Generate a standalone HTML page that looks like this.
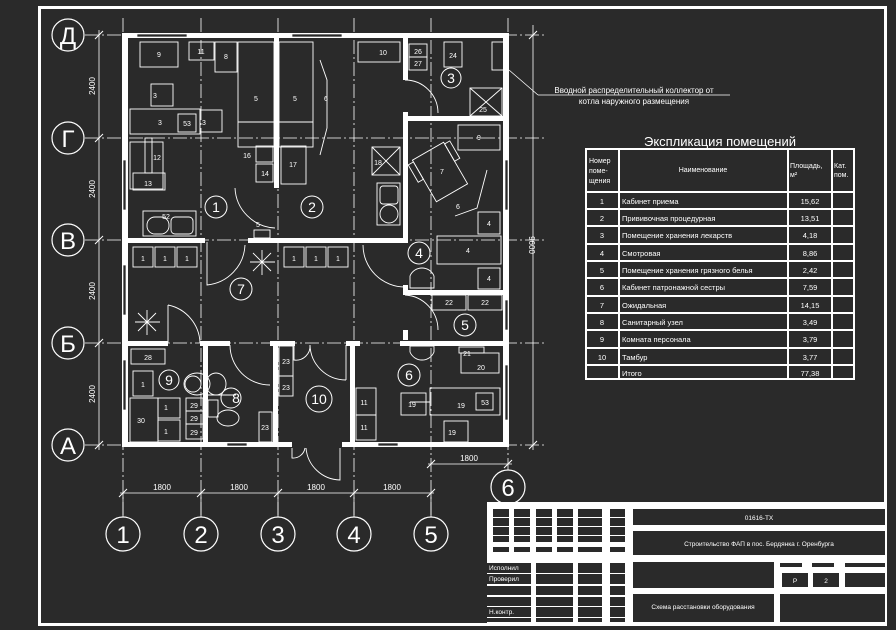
<!DOCTYPE html>
<html><head><meta charset="utf-8"><style>
html,body{margin:0;padding:0;background:#2a2a2a;}
svg{display:block;}
text{font-family:"Liberation Sans","DejaVu Sans",sans-serif;fill:#fff;}
</style></head><body>
<svg width="896" height="630" viewBox="0 0 896 630" xmlns="http://www.w3.org/2000/svg">
<rect width="896" height="630" fill="#2a2a2a"/>
<rect x="39.5" y="7.5" width="846" height="617" fill="none" stroke="#fff" stroke-width="3"/>

<!-- grid lines -->
<g stroke="#fff" stroke-width="0.8" stroke-dasharray="14,3,2,3">
<line x1="123" y1="18" x2="123" y2="515"/>
<line x1="201" y1="18" x2="201" y2="515"/>
<line x1="278" y1="18" x2="278" y2="515"/>
<line x1="354" y1="18" x2="354" y2="515"/>
<line x1="431" y1="18" x2="431" y2="515"/>
<line x1="508" y1="18" x2="508" y2="470"/>
<line x1="85" y1="35" x2="545" y2="35"/>
<line x1="85" y1="138" x2="545" y2="138"/>
<line x1="85" y1="240" x2="545" y2="240"/>
<line x1="85" y1="343" x2="545" y2="343"/>
<line x1="85" y1="445" x2="545" y2="445"/>
</g>
<!-- dimension lines -->
<g stroke="#fff" stroke-width="0.8">
<line x1="99" y1="30" x2="99" y2="450"/>
<line x1="533" y1="25" x2="533" y2="450"/>
<line x1="120" y1="493" x2="434" y2="493"/>
<line x1="428" y1="464" x2="512" y2="464"/>
<line x1="509" y1="70" x2="538" y2="95"/>
<line x1="538" y1="95" x2="730" y2="95"/>
<line x1="123" y1="493" x2="123" y2="517"/><line x1="201" y1="493" x2="201" y2="517"/><line x1="278" y1="493" x2="278" y2="517"/><line x1="354" y1="493" x2="354" y2="517"/><line x1="431" y1="493" x2="431" y2="517"/>
<g stroke-width="1">
<line x1="95" y1="39" x2="103" y2="31"/><line x1="95" y1="142" x2="103" y2="134"/><line x1="95" y1="244" x2="103" y2="236"/><line x1="95" y1="347" x2="103" y2="339"/><line x1="95" y1="449" x2="103" y2="441"/>
<line x1="529" y1="39" x2="537" y2="31"/><line x1="529" y1="449" x2="537" y2="441"/>
<line x1="119" y1="497" x2="127" y2="489"/><line x1="197" y1="497" x2="205" y2="489"/><line x1="274" y1="497" x2="282" y2="489"/><line x1="350" y1="497" x2="358" y2="489"/><line x1="427" y1="497" x2="435" y2="489"/>
<line x1="427" y1="468" x2="435" y2="460"/><line x1="504" y1="468" x2="512" y2="460"/>
</g>
</g>
<g font-size="8">
<text x="95" y="86" transform="rotate(-90 95 86)" text-anchor="middle">2400</text>
<text x="95" y="189" transform="rotate(-90 95 189)" text-anchor="middle">2400</text>
<text x="95" y="291" transform="rotate(-90 95 291)" text-anchor="middle">2400</text>
<text x="95" y="394" transform="rotate(-90 95 394)" text-anchor="middle">2400</text>
<text x="529" y="245" transform="rotate(90 529 245)" text-anchor="middle">9600</text>
<text x="162" y="490" text-anchor="middle">1800</text>
<text x="239" y="490" text-anchor="middle">1800</text>
<text x="316" y="490" text-anchor="middle">1800</text>
<text x="392" y="490" text-anchor="middle">1800</text>
<text x="469" y="461" text-anchor="middle">1800</text>
<text x="634" y="93" text-anchor="middle">Вводной распределительный коллектор от</text>
<text x="634" y="104" text-anchor="middle">котла наружного размещения</text>
</g>

<!-- axis circles -->
<g fill="none" stroke="#fff" stroke-width="1.2">
<circle cx="68" cy="35" r="16"/><circle cx="68" cy="138" r="16"/><circle cx="68" cy="240" r="16"/><circle cx="68" cy="343" r="16"/><circle cx="68" cy="445" r="16"/>
<circle cx="123" cy="534" r="17"/><circle cx="201" cy="534" r="17"/><circle cx="278" cy="534" r="17"/><circle cx="354" cy="534" r="17"/><circle cx="431" cy="534" r="17"/><circle cx="508" cy="487" r="17"/>
</g>
<g font-size="24" text-anchor="middle">
<text x="68" y="44">Д</text><text x="68" y="147">Г</text><text x="68" y="249">В</text><text x="68" y="352">Б</text><text x="68" y="454">А</text>
<text x="123" y="543">1</text><text x="201" y="543">2</text><text x="278" y="543">3</text><text x="354" y="543">4</text><text x="431" y="543">5</text><text x="508" y="496">6</text>
</g>

<!-- walls -->
<g fill="#fff">
<rect x="122" y="33" width="6" height="414"/>
<rect x="503" y="33" width="6" height="414"/>
<rect x="122" y="33" width="387" height="5"/>
<rect x="122" y="442" width="387" height="5"/>
<rect x="274" y="38" width="5" height="150"/>
<rect x="403" y="38" width="5" height="42"/>
<rect x="403" y="112" width="5" height="130"/>
<rect x="403" y="116" width="105" height="5"/>
<rect x="125" y="238" width="80" height="5"/>
<rect x="248" y="238" width="160" height="5"/>
<rect x="403" y="290" width="105" height="5"/>
<rect x="403" y="285" width="5" height="10"/>
<rect x="403" y="330" width="5" height="10"/>
<rect x="125" y="341" width="43" height="5"/>
<rect x="200" y="341" width="30" height="5"/>
<rect x="270" y="341" width="25" height="5"/>
<rect x="346" y="341" width="14" height="5"/>
<rect x="400" y="341" width="108" height="5"/>
<rect x="203" y="343" width="5" height="102"/>
<rect x="273" y="343" width="5" height="102"/>
<rect x="350" y="343" width="5" height="102"/>
</g>
<!-- window gaps on outer wall -->
<g fill="#2a2a2a" stroke="#fff" stroke-width="0.7">
<rect x="137" y="34" width="50" height="3"/><rect x="292" y="34" width="50" height="3"/>
<rect x="227" y="443" width="20" height="3"/><rect x="378" y="443" width="20" height="3"/>
<rect x="123" y="160" width="3" height="50"/><rect x="123" y="265" width="3" height="50"/><rect x="123" y="360" width="3" height="50"/>
<rect x="505" y="160" width="3" height="50"/><rect x="505" y="300" width="3" height="30"/><rect x="505" y="365" width="3" height="55"/>
</g>
<rect x="292" y="441" width="50" height="7" fill="#2a2a2a"/>

<!-- doors -->
<g fill="none" stroke="#fff" stroke-width="0.9">
<path d="M405 80 A33 33 0 0 1 438 113"/>
<path d="M235 188 A42 42 0 0 0 275 228"/>
<path d="M207 242 L207 285 A42 42 0 0 0 245 245"/>
<path d="M168 305 L168 343 M168 305 A40 40 0 0 1 200 343"/>
<path d="M363 245 A42 42 0 0 0 405 287"/>
<path d="M405 295 A35 35 0 0 1 438 330"/>
<path d="M230 345 A40 40 0 0 0 270 385"/>
<path d="M310 345 A36 36 0 0 0 346 380 M346 345 L346 380"/>
<path d="M294 345 L294 360 A14 14 0 0 0 310 345"/>
<path d="M340 448 L340 480 A35 35 0 0 1 306 448"/>
<path d="M292 448 L292 458 A12 12 0 0 0 305 448"/>
<path d="M320 60 L327 80 L327 128 L320 155"/>
<path d="M455 216 L477 208 L487 170"/>
</g>

<!-- furniture -->
<g fill="none" stroke="#fff" stroke-width="0.9">
<rect x="140" y="42" width="38" height="25"/>
<rect x="189" y="42" width="25" height="18"/>
<rect x="215" y="42" width="22" height="30"/>
<rect x="238" y="42" width="36" height="105"/><line x1="238" y1="122" x2="274" y2="122"/>
<rect x="279" y="42" width="34" height="105"/><line x1="279" y1="122" x2="313" y2="122"/>
<rect x="151" y="84" width="22" height="22"/>
<rect x="130" y="109" width="70" height="25"/>
<rect x="178" y="114" width="18" height="18"/>
<rect x="200" y="110" width="22" height="22"/>
<rect x="130" y="142" width="33" height="47"/>
<rect x="145" y="138" width="7" height="35"/>
<rect x="133" y="173" width="32" height="17"/>
<rect x="256" y="146" width="17" height="16"/>
<rect x="256" y="164" width="17" height="18"/>
<rect x="281" y="146" width="25" height="38"/>
<rect x="143" y="211" width="53" height="25"/>
<rect x="147" y="217" width="22" height="17" rx="8"/><rect x="171" y="217" width="22" height="17" rx="4"/>
<rect x="254" y="230" width="16" height="8"/>
<rect x="133" y="247" width="20" height="20"/><rect x="155" y="247" width="20" height="20"/><rect x="177" y="247" width="20" height="20"/>
<rect x="284" y="247" width="20" height="20"/><rect x="306" y="247" width="20" height="20"/><rect x="328" y="247" width="20" height="20"/>
<rect x="358" y="42" width="42" height="20"/>
<rect x="409" y="44" width="18" height="13"/><rect x="409" y="57" width="18" height="13"/>
<rect x="444" y="42" width="18" height="25"/>
<rect x="492" y="42" width="12" height="28"/>
<rect x="470" y="88" width="32" height="28"/><line x1="470" y1="88" x2="502" y2="116"/><line x1="502" y1="88" x2="470" y2="116"/>
<rect x="372" y="147" width="28" height="28"/><line x1="372" y1="147" x2="400" y2="175"/><line x1="400" y1="147" x2="372" y2="175"/>
<rect x="458" y="125" width="42" height="25"/>
<g transform="rotate(-30 440 172)"><rect x="422" y="148" width="36" height="48"/><rect x="416" y="150" width="6" height="20"/><rect x="458" y="150" width="6" height="20"/></g>
<rect x="377" y="183" width="23" height="42"/>
<rect x="380" y="186" width="18" height="18" rx="3"/><rect x="380" y="205" width="18" height="18" rx="9"/>
<rect x="478" y="212" width="22" height="22"/>
<rect x="437" y="236" width="64" height="28"/>
<rect x="478" y="268" width="22" height="21"/>
<path d="M410 288 L410 276 A13 13 0 0 1 434 276 L434 288 Z"/>
<rect x="432" y="295" width="34" height="15"/><rect x="468" y="295" width="34" height="15"/>
<path d="M410 346 L410 352 A13 13 0 0 0 434 352 L434 346 Z"/>
<rect x="459" y="347" width="25" height="6"/>
<rect x="461" y="353" width="38" height="20"/>
<rect x="401" y="393" width="25" height="22"/>
<rect x="430" y="388" width="70" height="27"/><rect x="476" y="393" width="17" height="17"/>
<rect x="444" y="421" width="24" height="21"/>
<rect x="131" y="349" width="34" height="15"/>
<rect x="133" y="371" width="20" height="25"/>
<rect x="130" y="398" width="28" height="44"/>
<rect x="158" y="398" width="22" height="20"/><rect x="158" y="420" width="22" height="21"/>
<rect x="186" y="398" width="17" height="13"/><rect x="186" y="411" width="17" height="13"/><rect x="186" y="424" width="17" height="15"/>
<ellipse cx="197" cy="384" rx="13" ry="11"/><circle cx="193" cy="384" r="8"/>
<ellipse cx="216" cy="384" rx="10" ry="11"/>
<rect x="208" y="400" width="10" height="17"/><ellipse cx="228" cy="418" rx="11" ry="8"/>
<rect x="236" y="238" width="0" height="0"/>
<rect x="279" y="346" width="14" height="30"/><rect x="279" y="376" width="14" height="20"/>
<rect x="259" y="412" width="13" height="30"/>
<rect x="356" y="388" width="20" height="27"/><rect x="356" y="415" width="20" height="25"/>
<path d="M410 402 L430 402 M208 395 L236 395"/>
</g>
<!-- lamps -->
<g stroke="#fff" stroke-width="0.9">
<path d="M250 262 L275 262 M262 250 L262 275 M253 253 L271 271 M271 253 L253 271"/>
<path d="M135 322 L160 322 M147 310 L147 335 M138 313 L156 331 M156 313 L138 331"/>
</g>
<!-- room circles -->
<g fill="none" stroke="#fff" stroke-width="1">
<circle cx="216" cy="207" r="11"/><circle cx="312" cy="207" r="11"/><circle cx="451" cy="78" r="10"/>
<circle cx="419" cy="253" r="11"/><circle cx="465" cy="325" r="11"/><circle cx="409" cy="375" r="11"/>
<circle cx="241" cy="289" r="11"/><circle cx="231" cy="398" r="10"/><circle cx="169" cy="380" r="10"/>
<circle cx="319" cy="399" r="13"/>
</g>
<g font-size="14" text-anchor="middle">
<text x="216" y="212">1</text><text x="312" y="212">2</text><text x="451" y="83">3</text>
<text x="419" y="258">4</text><text x="465" y="330">5</text><text x="409" y="380">6</text>
<text x="241" y="294">7</text><text x="236" y="403">8</text><text x="169" y="385">9</text><text x="319" y="404">10</text>
</g>
<g font-size="7" text-anchor="middle">
<text x="159" y="57">9</text><text x="201" y="54">11</text><text x="226" y="59">8</text>
<text x="256" y="101">5</text><text x="295" y="101">5</text><text x="326" y="101">6</text>
<text x="155" y="98">3</text><text x="160" y="125">3</text><text x="187" y="126">53</text><text x="204" y="125">3</text>
<text x="157" y="160">12</text><text x="148" y="186">13</text><text x="247" y="158">16</text><text x="265" y="176">14</text><text x="293" y="167">17</text>
<text x="166" y="219">52</text><text x="258" y="227">5</text>
<text x="143" y="261">1</text><text x="165" y="261">1</text><text x="187" y="261">1</text>
<text x="294" y="261">1</text><text x="316" y="261">1</text><text x="338" y="261">1</text>
<text x="383" y="55">10</text><text x="418" y="54">26</text><text x="418" y="66">27</text><text x="453" y="58">24</text><text x="483" y="112">25</text>
<text x="479" y="140">9</text><text x="442" y="174">7</text><text x="458" y="209">6</text><text x="378" y="165">18</text>
<text x="489" y="226">4</text><text x="468" y="253">4</text><text x="489" y="281">4</text>
<text x="449" y="305">22</text><text x="485" y="305">22</text>
<text x="467" y="356">21</text><text x="481" y="370">20</text>
<text x="412" y="407">19</text><text x="461" y="408">19</text><text x="485" y="405">53</text><text x="452" y="435">19</text>
<text x="148" y="360">28</text><text x="143" y="387">1</text><text x="141" y="423">30</text>
<text x="166" y="410">1</text><text x="166" y="434">1</text>
<text x="194" y="408">29</text><text x="194" y="421">29</text><text x="194" y="435">29</text>
<text x="286" y="364">23</text><text x="286" y="390">23</text><text x="265" y="430">23</text>
<text x="364" y="405">11</text><text x="364" y="430">11</text>
</g>

<!-- explication table -->
<text x="720" y="146" font-size="13" text-anchor="middle">Экспликация помещений</text>
<g stroke="#fff" stroke-width="2" fill="none">
<rect x="586" y="149" width="268" height="230"/>
<line x1="619" y1="149" x2="619" y2="379"/><line x1="788" y1="149" x2="788" y2="379"/><line x1="832" y1="149" x2="832" y2="379"/>
<line x1="586" y1="192" x2="854" y2="192"/>
<line x1="586" y1="209" x2="854" y2="209"/><line x1="586" y1="226" x2="854" y2="226"/><line x1="586" y1="244" x2="854" y2="244"/>
<line x1="586" y1="261" x2="854" y2="261"/><line x1="586" y1="278" x2="854" y2="278"/><line x1="586" y1="296" x2="854" y2="296"/>
<line x1="586" y1="313" x2="854" y2="313"/><line x1="586" y1="330" x2="854" y2="330"/><line x1="586" y1="348" x2="854" y2="348"/>
<line x1="586" y1="365" x2="854" y2="365"/>
</g>
<g font-size="7">
<text x="589" y="163">Номер</text><text x="589" y="173">поме-</text><text x="589" y="183">щения</text>
<text x="703" y="172" text-anchor="middle">Наименование</text>
<text x="790" y="168">Площадь,</text><text x="790" y="177">м²</text>
<text x="834" y="168">Кат.</text><text x="834" y="177">пом.</text>
</g>
<g font-size="7.5">
<g text-anchor="middle">
<text x="602" y="204">1</text><text x="602" y="221">2</text><text x="602" y="238">3</text><text x="602" y="256">4</text><text x="602" y="273">5</text><text x="602" y="290">6</text><text x="602" y="308">7</text><text x="602" y="325">8</text><text x="602" y="342">9</text><text x="602" y="360">10</text>
<text x="810" y="204">15,62</text><text x="810" y="221">13,51</text><text x="810" y="238">4,18</text><text x="810" y="256">8,86</text><text x="810" y="273">2,42</text><text x="810" y="290">7,59</text><text x="810" y="308">14,15</text><text x="810" y="325">3,49</text><text x="810" y="342">3,79</text><text x="810" y="360">3,77</text><text x="810" y="376">77,38</text>
</g>
<text x="622" y="204">Кабинет приема</text><text x="622" y="221">Прививочная процедурная</text><text x="622" y="238">Помещение хранения лекарств</text><text x="622" y="256">Смотровая</text><text x="622" y="273">Помещение хранения грязного белья</text><text x="622" y="290">Кабинет патронажной сестры</text><text x="622" y="308">Ожидальная</text><text x="622" y="325">Санитарный узел</text><text x="622" y="342">Комната персонала</text><text x="622" y="360">Тамбур</text><text x="622" y="376">Итого</text>
</g>

<!-- title block -->
<rect x="487" y="502" width="398" height="123" fill="#fff"/>
<g fill="#2a2a2a">
<rect x="493" y="509" width="16" height="8"/><rect x="493" y="518" width="16" height="8"/><rect x="493" y="527" width="16" height="8"/><rect x="493" y="536" width="16" height="6"/>
<rect x="514" y="509" width="16" height="8"/><rect x="514" y="518" width="16" height="8"/><rect x="514" y="527" width="16" height="8"/><rect x="514" y="536" width="16" height="6"/>
<rect x="536" y="509" width="16" height="8"/><rect x="536" y="518" width="16" height="8"/><rect x="536" y="527" width="16" height="8"/><rect x="536" y="536" width="16" height="6"/>
<rect x="557" y="509" width="16" height="8"/><rect x="557" y="518" width="16" height="8"/><rect x="557" y="527" width="16" height="8"/><rect x="557" y="536" width="16" height="6"/>
<rect x="578" y="509" width="24" height="8"/><rect x="578" y="518" width="24" height="8"/><rect x="578" y="527" width="24" height="8"/><rect x="578" y="536" width="24" height="6"/>
<rect x="610" y="509" width="15" height="8"/><rect x="610" y="518" width="15" height="8"/><rect x="610" y="527" width="15" height="8"/><rect x="610" y="536" width="15" height="6"/>
<rect x="493" y="547" width="16" height="5"/><rect x="514" y="547" width="16" height="5"/><rect x="536" y="547" width="16" height="5"/><rect x="557" y="547" width="16" height="5"/><rect x="578" y="547" width="24" height="5"/><rect x="610" y="547" width="15" height="5"/>
<rect x="487" y="563" width="44" height="10"/><rect x="487" y="574" width="44" height="10"/><rect x="487" y="586" width="44" height="9"/><rect x="487" y="597" width="44" height="9"/><rect x="487" y="607" width="44" height="10"/><rect x="487" y="618" width="44" height="4"/>
<rect x="536" y="563" width="37" height="10"/><rect x="536" y="574" width="37" height="10"/><rect x="536" y="586" width="37" height="9"/><rect x="536" y="597" width="37" height="9"/><rect x="536" y="607" width="37" height="10"/><rect x="536" y="618" width="37" height="4"/>
<rect x="578" y="563" width="24" height="10"/><rect x="578" y="574" width="24" height="10"/><rect x="578" y="586" width="24" height="9"/><rect x="578" y="597" width="24" height="9"/><rect x="578" y="607" width="24" height="10"/><rect x="578" y="618" width="24" height="4"/>
<rect x="610" y="563" width="15" height="10"/><rect x="610" y="574" width="15" height="10"/><rect x="610" y="586" width="15" height="9"/><rect x="610" y="597" width="15" height="9"/><rect x="610" y="607" width="15" height="10"/><rect x="610" y="618" width="15" height="4"/>
<rect x="633" y="509" width="252" height="16"/>
<rect x="633" y="531" width="252" height="24"/>
<rect x="633" y="562" width="141" height="26"/>
<rect x="780" y="563" width="22" height="4"/><rect x="812" y="563" width="22" height="4"/><rect x="845" y="563" width="40" height="4"/>
<rect x="782" y="573" width="26" height="14"/><rect x="813" y="573" width="26" height="14"/><rect x="845" y="573" width="40" height="14"/>
<rect x="633" y="594" width="141" height="28"/>
<rect x="780" y="594" width="105" height="28"/>
</g>
<g font-size="6.5">
<text x="759" y="520" text-anchor="middle">01616-ТХ</text>
<text x="759" y="546" text-anchor="middle">Строительство ФАП в пос. Бердянка г. Оренбурга</text>
<text x="703" y="609" text-anchor="middle">Схема расстановки оборудования</text>
<text x="795" y="583" text-anchor="middle">Р</text><text x="826" y="583" text-anchor="middle">2</text>
<text x="489" y="570">Исполнил</text><text x="489" y="581">Проверил</text><text x="489" y="614">Н.контр.</text>
</g>
</svg>
</body></html>
